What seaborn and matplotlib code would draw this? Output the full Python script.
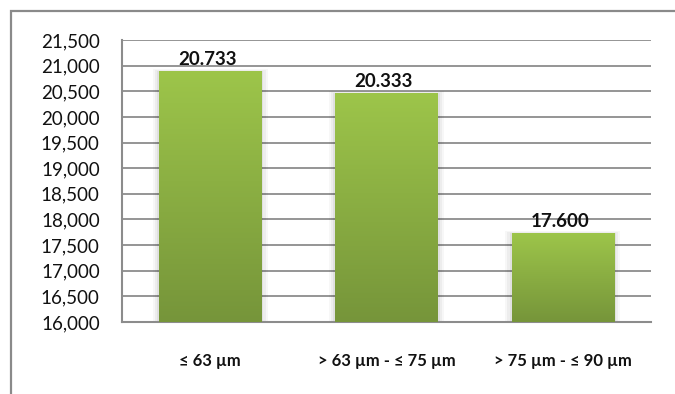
import numpy as np
import pandas as pd
import matplotlib
matplotlib.use("Agg")
import matplotlib.pyplot as plt
import seaborn as sns
from matplotlib.colors import LinearSegmentedColormap
from matplotlib.patches import Rectangle

categories = ["≤ 63 µm", "> 63 µm - ≤ 75 µm", "> 75 µm - ≤ 90 µm"]
bar_heights = [20880, 20460, 17730]
value_labels = ["20.733", "20.333", "17.600"]
y_ticks = [16000, 16500, 17000, 17500, 18000, 18500, 19000, 19500, 20000, 20500, 21000, 21500]
y_tick_labels = ["16,000", "16,500", "17,000", "17,500", "18,000", "18,500",
                 "19,000", "19,500", "20,000", "20,500", "21,000", "21,500"]

sns.set_theme(style="white")
plt.rcParams['font.family'] = ['Lato', 'DejaVu Sans']

W, H = 675, 394
dpi = 100
fig = plt.figure(figsize=(W / dpi, H / dpi), dpi=dpi)
fig.patch.set_facecolor("white")

fig.add_artist(Rectangle((11 / W, -0.1), 1.2, (394 - 11) / H + 0.1, transform=fig.transFigure,
                         fill=False, edgecolor="#8a8a8a", linewidth=1.6))

left, right, top, bottom = 122, 651, 40, 322
ax = fig.add_axes([left / W, 1 - bottom / H, (right - left) / W, (bottom - top) / H])

df = pd.DataFrame({"cat": categories, "val": bar_heights})
sns.barplot(data=df, x="cat", y="val", ax=ax, width=0.58, color="#8db443",
            edgecolor="none", zorder=3)

ymin, ymax = 16000, 21500
ax.set_ylim(ymin, ymax)
ax.set_xlim(-0.5, 2.5)
ax.set_yticks(y_ticks)
ax.set_yticklabels(y_tick_labels, fontsize=13.5, color="#111111")
ax.set_xlabel("")
ax.set_ylabel("")
ax.yaxis.grid(True, color="#8c8c8c", linewidth=1.3, zorder=0)
ax.set_axisbelow(True)
for s in ["top", "right"]:
    ax.spines[s].set_visible(False)
for s in ["left", "bottom"]:
    ax.spines[s].set_color("#8c8c8c")
    ax.spines[s].set_linewidth(1.5)
ax.tick_params(axis="y", length=0, pad=16)
ax.tick_params(axis="x", length=0, pad=22)
ax.set_xticks(range(len(categories)))
ax.set_xticklabels(categories, fontsize=12, fontweight="bold", color="#111111")

cmap = LinearSegmentedColormap.from_list("g", ["#76953a", "#9dc54a"])
grad = np.linspace(0, 1, 256).reshape(-1, 1)
for p in list(ax.patches):
    x0 = p.get_x()
    w = p.get_width()
    top_v = p.get_y() + p.get_height()
    for i, a in enumerate([0.05, 0.04, 0.03]):
        d = 0.012 * (i + 1)
        sh = Rectangle((x0 - d, ymin), w + 2 * d, top_v - ymin + 15 * (i + 1), facecolor="black",
                       alpha=a, edgecolor="none", zorder=2)
        ax.add_patch(sh)
    ax.imshow(grad, extent=[x0, x0 + w, ymin, top_v], origin="lower",
              cmap=cmap, aspect="auto", zorder=4)
    p.set_facecolor("none")

ax.set_xlim(-0.5, 2.5)
ax.set_ylim(ymin, ymax)

for i, (h, lab) in enumerate(zip(bar_heights, value_labels)):
    ax.annotate(lab, (i, h), xytext=(-2, 2.5), textcoords="offset points",
                ha="center", va="bottom", fontsize=13.5, fontweight="bold", color="#111111", zorder=5)

fig.savefig("out.png", dpi=dpi, facecolor="white")
